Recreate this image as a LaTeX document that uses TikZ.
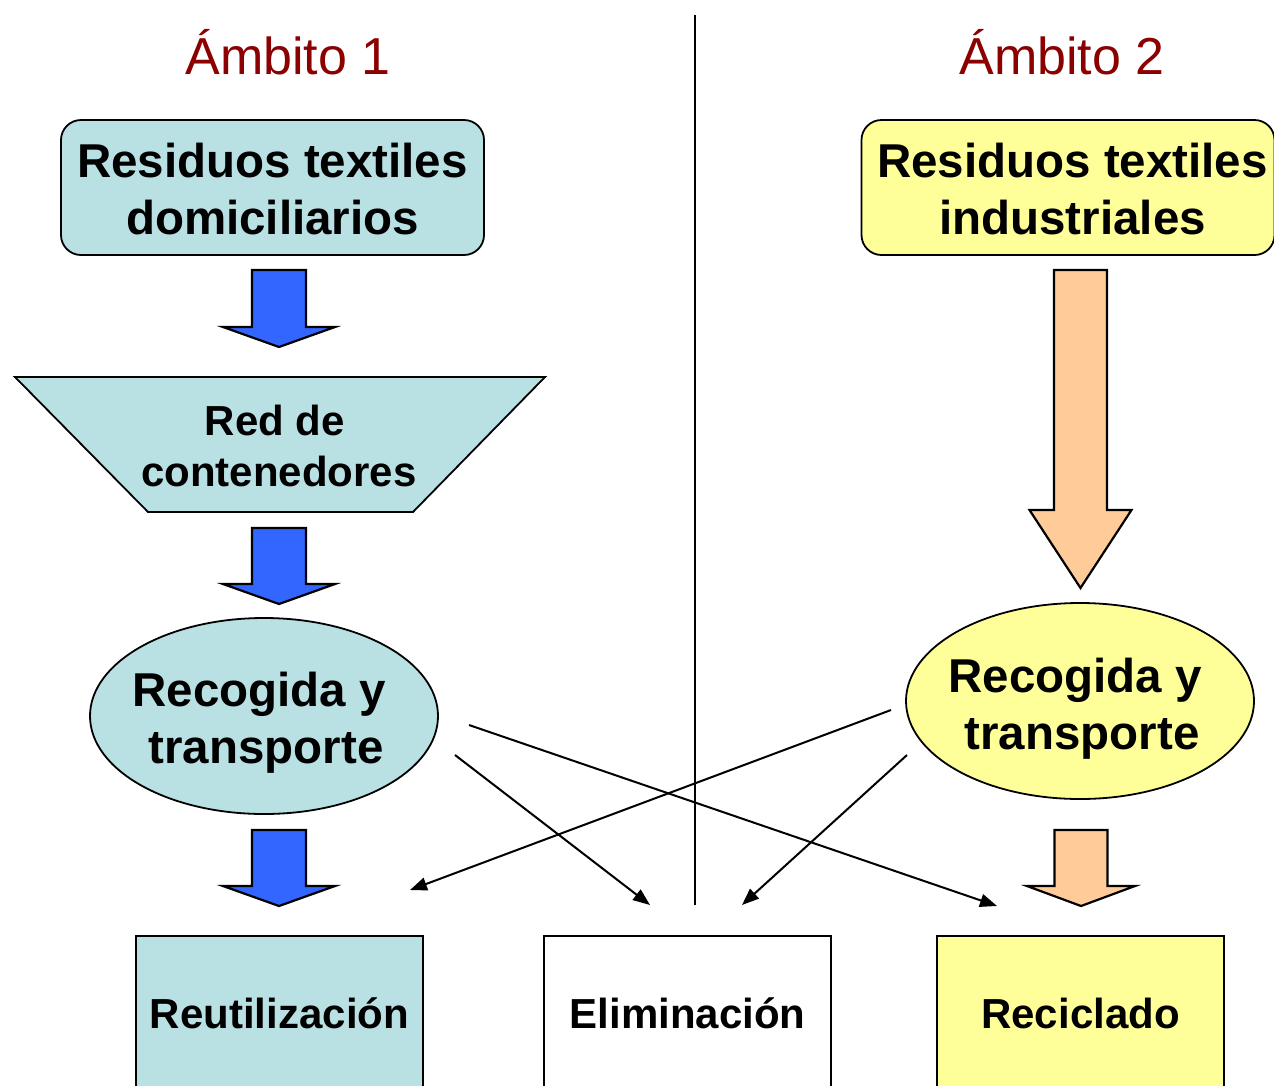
\documentclass[tikz,border=0pt]{standalone}
\usepackage{fontspec}
\setmainfont{Liberation Sans}
\usetikzlibrary{arrows.meta,shapes.geometric}
\definecolor{lblue}{HTML}{B9E0E3}
\definecolor{lyellow}{HTML}{FFFF99}
\definecolor{bblue}{HTML}{3366FF}
\definecolor{lorange}{HTML}{FFCC99}
\definecolor{dred}{HTML}{8B0000}
% style, cx, half shaft, half head, top, head base, tip
\newcommand{\blkarrow}[7]{%
  \filldraw[#1] ({#2-#3},#5) -- ({#2+#3},#5) -- ({#2+#3},#6) -- ({#2+#4},#6) -- (#2,#7) -- ({#2-#4},#6) -- ({#2-#3},#6) -- cycle;}
\begin{document}
\begin{tikzpicture}[x=1pt,y=-1pt,
  shapeline/.style={draw=black,line width=1.8pt},
  bigtext/.style={font=\fontsize{47.5}{57}\selectfont\bfseries,align=center},
  midtext/.style={font=\fontsize{42}{51}\selectfont\bfseries,align=center},
  ambito/.style={font=\fontsize{52}{62}\selectfont,text=dred,anchor=base},
  rbox/.style={shapeline,rounded corners=20pt,inner sep=0pt},
  ell/.style={shapeline,ellipse,minimum width=348pt,minimum height=196pt,inner sep=0pt},
  endbox/.style={shapeline,minimum width=287pt,minimum height=154pt,inner sep=0pt,font=\fontsize{42}{51}\selectfont\bfseries},
  blue arrow/.style={fill=bblue,draw=black,line width=2.2pt,line join=miter},
  orange arrow/.style={fill=lorange,draw=black,line width=2.2pt,line join=miter},
  conn/.style={draw=black,line width=2pt,-{Triangle[length=17pt,width=13pt]}}]
\useasboundingbox (0,0) rectangle (1274,1085);
\clip (0,0) rectangle (1274,1085);
\fill[white] (0,0) rectangle (1274,1085);

% divider
\coordinate (dtop) at (695,15);
\coordinate (dbot) at (695,905);
\draw[line width=1.8pt] (dtop) -- (dbot);

% headings
\node[ambito] (amb1) at (288,74) {Ámbito 1};
\node[ambito] (amb2) at (1062,74) {Ámbito 2};

% top boxes
\node[rbox,fill=lblue,minimum width=423pt,minimum height=135pt] (rdom) at (272.5,187.5) {};
\node[bigtext] (rdomt) at (272.5,189) {Residuos textiles\\domiciliarios};
\node[rbox,fill=lyellow,minimum width=413pt,minimum height=135pt] (rind) at (1068,187.5) {};
\node[bigtext] (rindt) at (1072.5,189) {Residuos textiles\\industriales};

% block arrows left
\blkarrow{blue arrow}{279}{27}{56}{270}{327}{347}
\blkarrow{blue arrow}{279}{27}{56}{528}{584}{604}
\blkarrow{blue arrow}{279}{27}{56}{830}{886}{906}

% trapezoid
\filldraw[fill=lblue,shapeline] (15,377) -- (545,377) -- (413,512) -- (148,512) -- cycle;
\node[midtext] (red) at (279,446) {Red de\hspace*{8pt}\\contenedores};

% ellipses
\node[ell,fill=lblue] (recl) at (264,716) {};
\node[bigtext] (reclt) at (259,723) {Recogida y\\\hspace*{14pt}transporte};
\node[ell,fill=lyellow] (recr) at (1080,701) {};
\node[bigtext] (recrt) at (1075,709) {Recogida y\\\hspace*{14pt}transporte};

% orange arrows
\blkarrow{orange arrow}{1080.5}{26.5}{51}{270}{510}{588}
\blkarrow{orange arrow}{1081}{26.5}{54}{830}{886}{906}

% bottom boxes
\node[endbox,fill=lblue] (reut) at (279.5,1013) {Reutilización};
\node[endbox,fill=white] (elim) at (687.5,1013) {Eliminación};
\node[endbox,fill=lyellow] (reci) at (1080.5,1013) {Reciclado};

% connectors
\coordinate (l1) at (469,725);
\coordinate (l2) at (455,755);
\coordinate (r1) at (891,710);
\coordinate (r2) at (907,755);
\coordinate (reciin) at (997,906);
\coordinate (elimin1) at (650,905);
\coordinate (reutin) at (410,890);
\coordinate (elimin2) at (742,905);
\draw[conn] (l1) -- (reciin);
\draw[conn] (l2) -- (elimin1);
\draw[conn] (r1) -- (reutin);
\draw[conn] (r2) -- (elimin2);
\end{tikzpicture}
\end{document}
